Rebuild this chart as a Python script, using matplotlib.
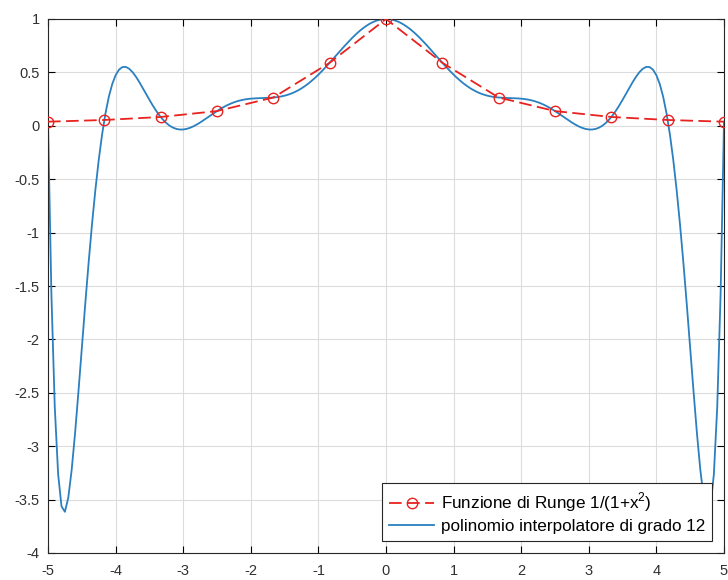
import numpy as np
import matplotlib
matplotlib.use("Agg")
import matplotlib.pyplot as plt

# interpolation nodes (13 equispaced points on [-5, 5]) and Runge values
x_nodes = [-5.0, -4.1667, -3.3333, -2.5, -1.6667, -0.8333, 0.0,
           0.8333, 1.6667, 2.5, 3.3333, 4.1667, 5.0]
y_nodes = [0.0385, 0.0545, 0.0826, 0.1379, 0.2647, 0.5902, 1.0,
           0.5902, 0.2647, 0.1379, 0.0826, 0.0545, 0.0385]

# degree-12 interpolating polynomial, sampled on x >= 0 (curve is symmetric)
x_half = [0.00, 0.05, 0.10, 0.15, 0.20, 0.25, 0.30, 0.35, 0.40, 0.45,
          0.50, 0.55, 0.60, 0.65, 0.70, 0.75, 0.80, 0.85, 0.90, 0.95,
          1.00, 1.05, 1.10, 1.15, 1.20, 1.25, 1.30, 1.35, 1.40, 1.45,
          1.50, 1.55, 1.60, 1.65, 1.70, 1.75, 1.80, 1.85, 1.90, 1.95,
          2.00, 2.05, 2.10, 2.15, 2.20, 2.25, 2.30, 2.35, 2.40, 2.45,
          2.50, 2.55, 2.60, 2.65, 2.70, 2.75, 2.80, 2.85, 2.90, 2.95,
          3.00, 3.05, 3.10, 3.15, 3.20, 3.25, 3.30, 3.35, 3.40, 3.45,
          3.50, 3.55, 3.60, 3.65, 3.70, 3.75, 3.80, 3.85, 3.90, 3.95,
          4.00, 4.05, 4.10, 4.15, 4.20, 4.25, 4.30, 4.35, 4.40, 4.45,
          4.50, 4.55, 4.60, 4.65, 4.70, 4.75, 4.80, 4.85, 4.90, 4.95,
          5.00]
p_half = [1.0000, 0.9980, 0.9922, 0.9825, 0.9692, 0.9523, 0.9320, 0.9087,
          0.8826, 0.8539, 0.8231, 0.7905, 0.7565, 0.7214, 0.6856, 0.6497,
          0.6138, 0.5785, 0.5440, 0.5107, 0.4789, 0.4489, 0.4209, 0.3950,
          0.3716, 0.3505, 0.3320, 0.3159, 0.3023, 0.2910, 0.2819, 0.2748,
          0.2695, 0.2657, 0.2631, 0.2614, 0.2602, 0.2593, 0.2582, 0.2565,
          0.2541, 0.2505, 0.2454, 0.2387, 0.2302, 0.2196, 0.2071, 0.1925,
          0.1760, 0.1577, 0.1379, 0.1170, 0.0952, 0.0732, 0.0515, 0.0307,
          0.0115, -0.0053, -0.0191, -0.0291, -0.0346, -0.0349, -0.0295, -0.0177,
          0.0006, 0.0258, 0.0577, 0.0961, 0.1404, 0.1900, 0.2434, 0.2993,
          0.3557, 0.4103, 0.4604, 0.5030, 0.5347, 0.5516, 0.5498, 0.5251,
          0.4733, 0.3903, 0.2722, 0.1157, -0.0819, -0.3221, -0.6049, -0.9283,
          -1.2882, -1.6769, -2.0834, -2.4919, -2.8810, -3.2230, -3.4823, -3.6143,
          -3.5637, -3.2631, -2.6308, -1.5691, 0.0385]

x_ticks = [-5, -4, -3, -2, -1, 0, 1, 2, 3, 4, 5]
y_ticks = [-4, -3.5, -3, -2.5, -2, -1.5, -1, -0.5, 0, 0.5, 1]

label_runge = 'Funzione di Runge 1/(1+x$^2$)'
label_poly = 'polinomio interpolatore di grado 12'

x_poly = [-v for v in x_half[::-1]] + x_half[1:]
y_poly = p_half[::-1] + p_half[1:]

plt.rcParams['font.family'] = ['Liberation Sans', 'DejaVu Sans']
plt.rcParams['mathtext.fontset'] = 'custom'
plt.rcParams['mathtext.rm'] = 'Liberation Sans'
plt.rcParams['axes.unicode_minus'] = False

fig = plt.figure(figsize=(7.28, 5.8), dpi=100)
ax = fig.add_axes([48/728, 1 - 553/580, 676/728, 534/580])

ax.plot(x_nodes, y_nodes, color='#e8221f', linestyle=(0, (7, 3)), linewidth=1.3,
        marker='o', markersize=7.5, markerfacecolor='none', markeredgewidth=1.0,
        label=label_runge, zorder=3)
ax.plot(x_poly, y_poly, color='#2a80c0', linewidth=1.3, label=label_poly, zorder=2)

ax.set_xlim(-5, 5)
ax.set_ylim(-4, 1)
ax.set_xticks(x_ticks)
ax.set_yticks(y_ticks)
ax.set_yticklabels(['%g' % v for v in y_ticks])
ax.tick_params(direction='in', top=True, right=True, length=5, width=0.8,
               labelsize=10.5, labelcolor='#303030', pad=6)
ax.tick_params(axis='x', pad=8)
ax.grid(True, color='#dcdcdc', linewidth=0.8)
ax.set_axisbelow(True)
for s in ax.spines.values():
    s.set_linewidth(0.8)
    s.set_color('#262626')

leg = ax.legend(loc='lower right', fontsize=12.3, fancybox=False, framealpha=1,
                edgecolor='#262626', borderaxespad=0.7, handlelength=2.6,
                borderpad=0.42, labelspacing=0.28, handletextpad=0.4)
leg.get_frame().set_linewidth(0.8)

fig.savefig('out.png', dpi=100)
